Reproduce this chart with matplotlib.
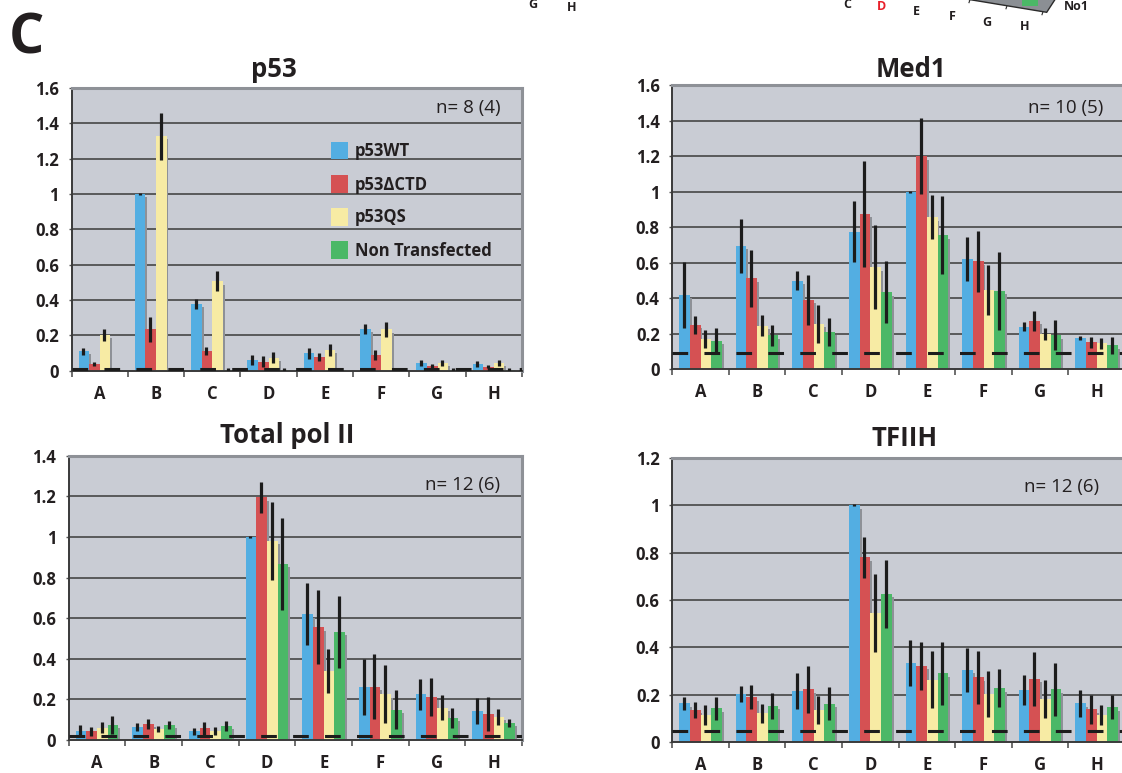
import matplotlib
matplotlib.use('Agg')
import matplotlib.pyplot as plt
import numpy as np
from matplotlib.patches import Rectangle, Polygon

plt.rcParams['font.family'] = ['Open Sans', 'DejaVu Sans']
plt.rcParams['lines.scale_dashes'] = False

W, H = 1122, 773

categories = ['A', 'B', 'C', 'D', 'E', 'F', 'G', 'H']
series_names = ['p53WT', 'p53\u0394CTD', 'p53QS', 'Non Transfected']
colors = ['#53aee2', '#d55153', '#f7eba4', '#4bb867']

# ---- p53 panel ----
p53_wt      = [0.111, 1.000, 0.377, 0.060, 0.098, 0.236, 0.043, 0.038]
p53_wt_err  = [0.020, 0.005, 0.027, 0.030, 0.030, 0.030, 0.015, 0.015]
p53_dctd    = [0.038, 0.234, 0.111, 0.051, 0.079, 0.089, 0.028, 0.023]
p53_dctd_err= [0.010, 0.070, 0.023, 0.030, 0.023, 0.026, 0.012, 0.010]
p53_qs      = [0.202, 1.328, 0.506, 0.074, 0.117, 0.234, 0.043, 0.043]
p53_qs_err  = [0.035, 0.133, 0.057, 0.030, 0.032, 0.042, 0.015, 0.015]
p53_nt      = [0.005, 0.005, 0.005, 0.005, 0.005, 0.005, 0.005, 0.005]
p53_nt_err  = [0.004, 0.004, 0.008, 0.008, 0.004, 0.004, 0.010, 0.008]

# ---- Med1 panel ----
med1_wt      = [0.419, 0.695, 0.498, 0.776, 1.000, 0.620, 0.240, 0.175]
med1_wt_err  = [0.186, 0.153, 0.054, 0.173, 0.005, 0.124, 0.027, 0.012]
med1_dctd    = [0.250, 0.513, 0.391, 0.875, 1.200, 0.608, 0.272, 0.152]
med1_dctd_err= [0.053, 0.160, 0.143, 0.296, 0.215, 0.170, 0.056, 0.030]
med1_qs      = [0.171, 0.246, 0.255, 0.575, 0.856, 0.447, 0.199, 0.146]
med1_qs_err  = [0.049, 0.059, 0.106, 0.238, 0.124, 0.139, 0.033, 0.030]
med1_nt      = [0.160, 0.192, 0.210, 0.434, 0.755, 0.441, 0.192, 0.135]
med1_nt_err  = [0.072, 0.059, 0.081, 0.174, 0.220, 0.222, 0.083, 0.047]

# ---- Total pol II panel ----
pol2_wt      = [0.043, 0.064, 0.043, 1.000, 0.620, 0.263, 0.226, 0.143]
pol2_wt_err  = [0.030, 0.020, 0.016, 0.005, 0.154, 0.138, 0.076, 0.062]
pol2_dctd    = [0.043, 0.080, 0.057, 1.195, 0.556, 0.263, 0.213, 0.128]
pol2_dctd_err= [0.023, 0.025, 0.033, 0.075, 0.181, 0.162, 0.094, 0.085]
pol2_qs      = [0.061, 0.054, 0.044, 0.980, 0.340, 0.226, 0.159, 0.113]
pol2_qs_err  = [0.027, 0.016, 0.020, 0.193, 0.108, 0.143, 0.061, 0.039]
pol2_nt      = [0.074, 0.074, 0.069, 0.867, 0.532, 0.148, 0.108, 0.085]
pol2_nt_err  = [0.045, 0.020, 0.024, 0.226, 0.176, 0.096, 0.051, 0.020]

# ---- TFIIH panel ----
tfiih_wt      = [0.164, 0.204, 0.216, 1.000, 0.333, 0.305, 0.221, 0.164]
tfiih_wt_err  = [0.029, 0.032, 0.077, 0.005, 0.097, 0.091, 0.063, 0.058]
tfiih_dctd    = [0.136, 0.190, 0.223, 0.780, 0.322, 0.274, 0.267, 0.139]
tfiih_dctd_err= [0.035, 0.051, 0.100, 0.086, 0.102, 0.111, 0.115, 0.061]
tfiih_qs      = [0.115, 0.122, 0.136, 0.544, 0.263, 0.204, 0.183, 0.115]
tfiih_qs_err  = [0.042, 0.041, 0.060, 0.165, 0.120, 0.098, 0.079, 0.044]
tfiih_nt      = [0.143, 0.153, 0.162, 0.625, 0.291, 0.228, 0.223, 0.148]
tfiih_nt_err  = [0.050, 0.056, 0.070, 0.145, 0.134, 0.079, 0.111, 0.051]

# background (non-specific) levels shown as dashed lines
bg_p53, bg_med1, bg_pol2, bg_tfiih = 0.01, 0.09, 0.018, 0.048

yticks_16 = [0, 0.2, 0.4, 0.6, 0.8, 1, 1.2, 1.4, 1.6]
yticks_14 = [0, 0.2, 0.4, 0.6, 0.8, 1, 1.2, 1.4]
yticks_12 = [0, 0.2, 0.4, 0.6, 0.8, 1, 1.2]

fig = plt.figure(figsize=(W / 100, H / 100), dpi=100)


def fx(px):
    return px / W


def fy(py):
    return 1 - py / H


def make_ax(left, right, top, bottom):
    return fig.add_axes([fx(left), fy(bottom), (right - left) / W, (bottom - top) / H])


def draw_panel(ax, vals, errs, yticks, bg):
    ymax = yticks[-1]
    n = len(categories)
    bw = 0.1875
    ax.set_facecolor('#c9ccd4')
    for k in range(4):
        xs = np.arange(n) + 0.5 + (k - 1.5) * bw
        v = np.array(vals[k])
        sh = np.clip(v - 0.012 * ymax, 0, None)
        ax.bar(xs + 0.035, sh, width=bw, color='#8e9197', zorder=1.5, linewidth=0)
        ax.bar(xs, v, width=bw, color=colors[k], zorder=2, linewidth=0)
        ax.errorbar(xs - 0.01, v, yerr=errs[k], fmt='none', ecolor='#1c1c1c',
                    elinewidth=2.3, capsize=0, zorder=4)
    ax.axhline(bg, color='#1c1c1c', lw=2.2, dashes=(11.3, 11.7), zorder=3.5)
    ax.set_xlim(0, n)
    ax.set_ylim(0, ymax)
    ax.set_yticks(yticks)
    ax.set_yticklabels([f'{t:g}' for t in yticks], fontsize=12, fontweight='bold', color='#231f20')
    for t in yticks[1:-1]:
        ax.axhline(t, color='#3a3a3a', lw=1.1, zorder=1)
    ax.set_xticks(np.arange(n) + 0.5)
    ax.set_xticklabels(categories, fontsize=12, fontweight='bold', color='#231f20')
    ax.set_xticks(np.arange(n + 1), minor=True)
    ax.tick_params(axis='x', which='major', length=0, pad=10)
    ax.tick_params(axis='x', which='minor', length=4, width=1.2, color='#555555', direction='out')
    ax.tick_params(axis='y', which='major', length=2.5, width=1.0, color='#555555', pad=6.5)
    for s in ['left', 'bottom']:
        ax.spines[s].set_color('#3a3a3a')
        ax.spines[s].set_linewidth(1.4)
    for s in ['top', 'right']:
        ax.spines[s].set_color('#8e9197')
        ax.spines[s].set_linewidth(2.2)


ax1 = make_ax(71.5, 522, 88, 370.7)
draw_panel(ax1, [p53_wt, p53_dctd, p53_qs, p53_nt],
           [p53_wt_err, p53_dctd_err, p53_qs_err, p53_nt_err], yticks_16, bg_p53)

ax2 = make_ax(672.2, 1125, 85.3, 369.3)
draw_panel(ax2, [med1_wt, med1_dctd, med1_qs, med1_nt],
           [med1_wt_err, med1_dctd_err, med1_qs_err, med1_nt_err], yticks_16, bg_med1)

ax3 = make_ax(68.6, 522, 455.7, 740)
draw_panel(ax3, [pol2_wt, pol2_dctd, pol2_qs, pol2_nt],
           [pol2_wt_err, pol2_dctd_err, pol2_qs_err, pol2_nt_err], yticks_14, bg_pol2)

ax4 = make_ax(672.2, 1125, 457.7, 742.3)
draw_panel(ax4, [tfiih_wt, tfiih_dctd, tfiih_qs, tfiih_nt],
           [tfiih_wt_err, tfiih_dctd_err, tfiih_qs_err, tfiih_nt_err], yticks_12, bg_tfiih)

# titles
title_kw = dict(fontsize=18.5, fontweight='bold', color='#231f20', ha='center', va='baseline')
fig.text(fx(274), fy(77.3), 'p53', **title_kw)
fig.text(fx(911), fy(77.3), 'Med1', **title_kw)
fig.text(fx(287.5), fy(443.3), 'Total pol II', **title_kw)
fig.text(fx(905), fy(445.7), 'TFIIH', **title_kw)

# n labels
n_kw = dict(fontsize=13.5, color='#231f20', ha='right', va='baseline')
fig.text(fx(501), fy(113.3), 'n= 8 (4)', **n_kw)
fig.text(fx(1103), fy(113.3), 'n= 10 (5)', **n_kw)
fig.text(fx(500), fy(490), 'n= 12 (6)', **n_kw)
fig.text(fx(1099), fy(491.7), 'n= 12 (6)', **n_kw)

# legend (p53 panel)
leg_centers = [150.3, 184, 217, 250]
for name, c, yc in zip(series_names, colors, leg_centers):
    fig.patches.append(Rectangle((fx(331), fy(yc + 8.7)), 17.3 / W, 17.4 / H,
                                 transform=fig.transFigure, facecolor=c, edgecolor='none',
                                 zorder=5))
    fig.text(fx(354.7), fy(yc + 5.5), name, fontsize=12, fontweight='bold',
             color='#231f20', ha='left', va='baseline',
             family=['Open Sans', 'DejaVu Sans'], zorder=6)

# panel label
fig.text(fx(9), fy(53), 'C', fontsize=40, fontweight='bold', color='#231f20',
         ha='left', va='baseline', stretch='condensed')

# fragments of the panel above (cropped in the reference)
frag_kw = dict(fontsize=9, fontweight='bold', color='#231f20', ha='center', va='baseline')
fig.text(fx(533), fy(8), 'G', **frag_kw)
fig.text(fx(572), fy(11), 'H', **frag_kw)
fig.text(fx(847), fy(8), 'C', **frag_kw)
fig.text(fx(882), fy(10), 'D', fontsize=9, fontweight='bold', color='#e8202a',
         ha='center', va='baseline')
fig.text(fx(916), fy(15), 'E', **frag_kw)
fig.text(fx(952), fy(20.5), 'F', **frag_kw)
fig.text(fx(987), fy(25.5), 'G', **frag_kw)
fig.text(fx(1025), fy(30.5), 'H', **frag_kw)
fig.text(fx(1076), fy(9.5), 'No1', **frag_kw)

floor = [(960, -2), (1046.7, 12.3), (1056, -2)]
fig.patches.append(Polygon([(fx(a), fy(b)) for a, b in floor], closed=True,
                           transform=fig.transFigure, facecolor='#8b8f94',
                           edgecolor='#2a2a2a', linewidth=1.0, zorder=5))
fig.patches.append(Rectangle((fx(1022), fy(6)), 16 / W, 8 / H, transform=fig.transFigure,
                             facecolor='#4bb867', edgecolor='none', zorder=6))
for tx in [970, 1007, 1043]:
    ty = -2 + (tx - 960) * (14.3 / 86.7)
    fig.lines.append(plt.Line2D([fx(tx), fx(tx - 1)], [fy(ty), fy(ty + 3)],
                                transform=fig.transFigure, color='#2a2a2a', lw=0.8))

fig.savefig('out.png', dpi=100)
